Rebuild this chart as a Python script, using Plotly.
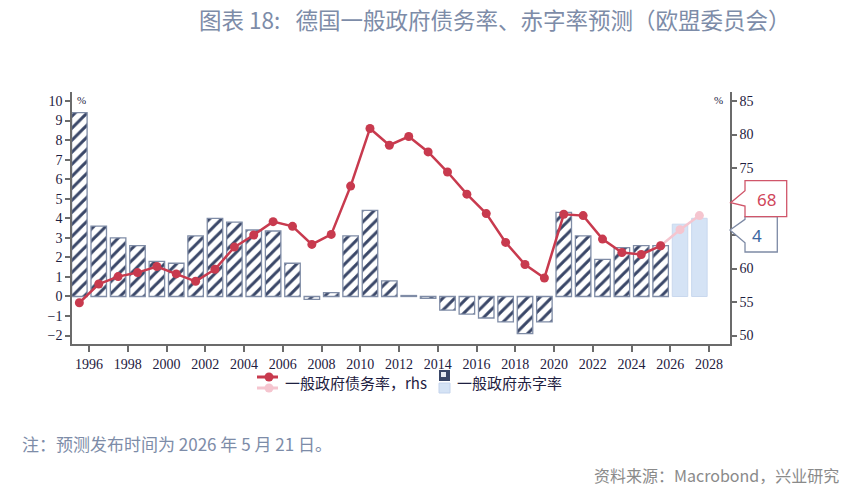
import plotly.graph_objects as go

# ---- data ----
years = list(range(1995, 2028))
deficit = [9.4, 3.6, 3.0, 2.6, 1.8, 1.7, 3.1, 4.0, 3.8, 3.4, 3.35, 1.7, -0.15, 0.2, 3.1,
           4.4, 0.8, 0.05, -0.1, -0.7, -0.9, -1.1, -1.3, -1.9, -1.3, 4.3, 3.1, 1.9, 2.5,
           2.6, 2.6, 3.7, 4.0]
debt = [54.9, 57.7, 58.8, 59.4, 60.3, 59.2, 58.1, 59.9, 63.2, 65.0, 67.0, 66.3, 63.6,
        65.1, 72.3, 80.9, 78.4, 79.7, 77.4, 74.4, 71.1, 68.2, 63.9, 60.6, 58.6, 68.1,
        67.9, 64.4, 62.4, 62.1, 63.4, 65.8, 67.9]
first_forecast_year = 2026
x_ticks = list(range(1996, 2029, 2))
left_ticks = list(range(-2, 11))
right_ticks = list(range(50, 90, 5))

title_text = "图表 18:&nbsp;&nbsp;&nbsp;德国一般政府债务率、赤字率预测（欧盟委员会）"
note_text = "注：预测发布时间为 2026 年 5 月 21 日。"
source_text = "资料来源：Macrobond，兴业研究"
legend_debt = "一般政府债务率，rhs"
legend_def = "一般政府赤字率"

# ---- styling ----
RED = "#c83a4e"
PINK = "#f5c5cf"
NAVY = "#3a4768"
LIGHT = "#d5e3f5"
TITLE_C = "#7d8ca8"
TICK_C = "#1e2040"
AXIS_C = "#6b6b6b"

W, H = 865, 504
PL, PR, PT, PB = 72, 730, 92, 344  # plot area in px

def px(x):
    return (x - PL) / (PR - PL)

def py(y):
    return (PB - y) / (PB - PT)

n_hist = years.index(first_forecast_year)
xmid = [y + 0.5 for y in years]

fig = go.Figure()

fig.add_trace(go.Bar(
    x=xmid[:n_hist], y=deficit[:n_hist], width=0.8,
    marker=dict(color="white", line=dict(color="#7f8ca6", width=1.3),
                pattern=dict(shape="/", fgcolor=NAVY, bgcolor="white", fgopacity=1,
                             size=8.5, solidity=0.36)),
    showlegend=False, hoverinfo="skip"))
fig.add_trace(go.Bar(
    x=xmid[n_hist:], y=deficit[n_hist:], width=0.8,
    marker=dict(color=LIGHT, line=dict(color="#c9d8ee", width=1)),
    showlegend=False, hoverinfo="skip"))

fig.add_trace(go.Scatter(
    x=xmid[n_hist - 1:], y=debt[n_hist - 1:], yaxis="y2", mode="lines+markers",
    line=dict(color=PINK, width=2.5), marker=dict(color=PINK, size=9),
    showlegend=False, hoverinfo="skip"))
fig.add_trace(go.Scatter(
    x=xmid[:n_hist], y=debt[:n_hist], yaxis="y2", mode="lines+markers",
    line=dict(color=RED, width=2.5), marker=dict(color=RED, size=9),
    showlegend=False, hoverinfo="skip"))

shapes = []
annotations = []

def text_at(x, y, text, font, xanchor="center"):
    annotations.append(dict(x=px(x), y=py(y), xref="paper", yref="paper",
                            xanchor=xanchor, yanchor="middle", showarrow=False,
                            text=text, font=font))

# callouts
gray_box = [(745, 216.7), (777.3, 216.7), (777.3, 252), (745, 252), (745, 242.7), (730, 230), (745, 219.3)]
red_box = [(745, 180.7), (786.7, 180.7), (786.7, 216.7), (745, 216.7), (745, 206), (730.7, 202.7), (745, 190.7)]
for pts, col in [(gray_box, "#7d8aa5"), (red_box, "#d0566a")]:
    path = "M " + " L ".join(f"{px(a):.5f},{py(b):.5f}" for a, b in pts) + " Z"
    shapes.append(dict(type="path", xref="paper", yref="paper", path=path,
                       fillcolor="white", line=dict(color=col, width=1.3), layer="above"))
text_at(766, 199, f"{round(debt[-1])}", dict(family="Noto Sans", size=17, color="#d0455a"))
text_at(757, 235, f"{round(deficit[-1])}", dict(family="Noto Sans", size=17, color="#3a66a0"))

# legend (manual)
for yy, col in [(377, RED), (388, PINK)]:
    shapes.append(dict(type="line", xref="paper", yref="paper", x0=px(257), x1=px(278),
                       y0=py(yy), y1=py(yy), line=dict(color=col, width=3)))
    shapes.append(dict(type="circle", xref="paper", yref="paper", x0=px(264.5), x1=px(273.5),
                       y0=py(yy + 4.5), y1=py(yy - 4.5), fillcolor=col, line=dict(width=0)))
shapes.append(dict(type="rect", xref="paper", yref="paper", x0=px(439), x1=px(450),
                   y0=py(381), y1=py(370), fillcolor=NAVY, line=dict(width=0)))
shapes.append(dict(type="rect", xref="paper", yref="paper", x0=px(441), x1=px(446),
                   y0=py(377), y1=py(372), fillcolor="#e8ecf4", line=dict(width=0)))
shapes.append(dict(type="rect", xref="paper", yref="paper", x0=px(439), x1=px(450),
                   y0=py(393), y1=py(383), fillcolor=LIGHT, line=dict(color="#c3d3ec", width=1)))
text_at(283, 382, legend_debt, dict(family="Noto Sans CJK SC", size=15, color=TICK_C), "left")
text_at(455, 382, legend_def, dict(family="Noto Sans CJK SC", size=15, color=TICK_C), "left")

# % units
text_at(81, 100, "%", dict(family="Liberation Serif", size=11, color=TICK_C))
text_at(718, 100, "%", dict(family="Liberation Serif", size=11, color=TICK_C))

# title, note, source
text_at(197, 19, title_text, dict(family="Noto Sans CJK SC", size=22.5, color=TITLE_C), "left")
text_at(20, 443, note_text, dict(family="Noto Sans CJK SC", size=17, color=TITLE_C), "left")
text_at(841, 475, source_text, dict(family="Noto Sans CJK SC", size=16, color="#8a8a8a"), "right")

lo_l, hi_l = -2.43, 10.46
conv = lambda v: 50 + (v + 2) * 35 / 12

axis_common = dict(ticks="outside", tickcolor=AXIS_C, tickwidth=1.5,
                   showline=True, linecolor=AXIS_C, linewidth=1.5, showgrid=False, zeroline=False,
                   tickfont=dict(family="Liberation Serif", size=14, color=TICK_C))

fig.update_layout(
    width=W, height=H,
    margin=dict(l=PL, r=W - PR, t=PT, b=H - PB),
    paper_bgcolor="white", plot_bgcolor="white",
    barmode="overlay",
    showlegend=False,
    shapes=shapes, annotations=annotations,
    xaxis=dict(range=[1995.12, 2029.08], tickmode="array", tickvals=x_ticks, ticklen=6,
               **axis_common),
    yaxis=dict(range=[lo_l, hi_l], tickmode="array", tickvals=left_ticks, ticklen=5,
               **axis_common),
    yaxis2=dict(range=[conv(lo_l), conv(hi_l)], overlaying="y", side="right",
                tickmode="array", tickvals=right_ticks, ticklen=5, **axis_common),
)

fig.write_html("out.html")
